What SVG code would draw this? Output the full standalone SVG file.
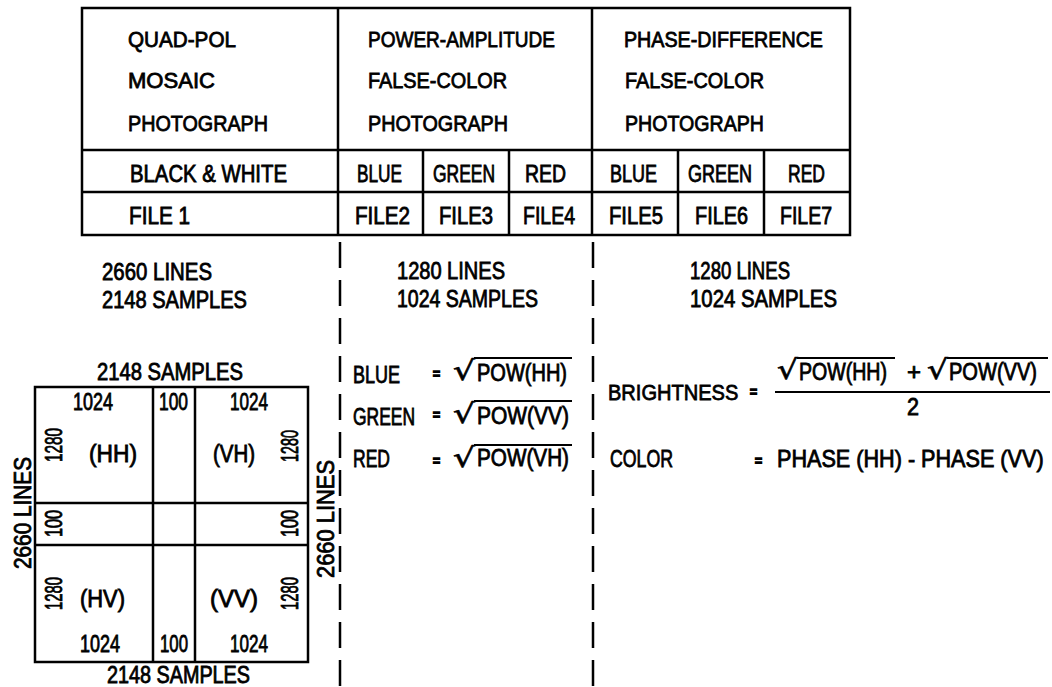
<svg xmlns="http://www.w3.org/2000/svg" width="1052" height="687" viewBox="0 0 1052 687">
<style>
.t{font-family:"Liberation Sans",Arial,sans-serif;font-size:23px;fill:#000;stroke:#000;stroke-width:0.8px}
.h{font-size:22px}
.eq{font-family:"Liberation Sans",Arial,sans-serif;font-size:12px;font-weight:bold;fill:#000;stroke:#000;stroke-width:1.4px}
.rad{font-family:"DejaVu Sans",sans-serif;font-size:27px;fill:#000;stroke:#000;stroke-width:0.6px}
.ln{stroke:#000;stroke-width:2.5;fill:none}
.dash{stroke:#000;stroke-width:2.5;fill:none;stroke-dasharray:26 12}
.vin{stroke:#000;stroke-width:2;fill:none}
</style>
<rect width="1052" height="687" fill="#fff"/>

<g id="table">
  <rect class="ln" x="82" y="8" width="768" height="227"/>
  <line class="ln" x1="82" y1="150" x2="850" y2="150"/>
  <line class="ln" x1="82" y1="192" x2="850" y2="192"/>
  <line class="ln" x1="338" y1="8" x2="338" y2="235"/>
  <line class="ln" x1="592" y1="8" x2="592" y2="235"/>
  <line class="ln" x1="423" y1="150" x2="423" y2="235"/>
  <line class="ln" x1="509" y1="150" x2="509" y2="235"/>
  <line class="ln" x1="678" y1="150" x2="678" y2="235"/>
  <line class="ln" x1="764" y1="150" x2="764" y2="235"/>
</g>

<g id="col-quadpol">
  <text class="t h" x="128" y="47" textLength="108" lengthAdjust="spacingAndGlyphs">QUAD-POL</text>
  <text class="t h" x="128" y="88" textLength="87" lengthAdjust="spacingAndGlyphs">MOSAIC</text>
  <text class="t h" x="128" y="131" textLength="140" lengthAdjust="spacingAndGlyphs">PHOTOGRAPH</text>
  <text class="t" x="130" y="182" textLength="157" lengthAdjust="spacingAndGlyphs">BLACK &amp; WHITE</text>
  <text class="t" x="129" y="224" textLength="61" lengthAdjust="spacingAndGlyphs">FILE 1</text>
</g>

<g id="col-power">
  <text class="t h" x="368" y="47" textLength="187" lengthAdjust="spacingAndGlyphs">POWER-AMPLITUDE</text>
  <text class="t h" x="368" y="88" textLength="139" lengthAdjust="spacingAndGlyphs">FALSE-COLOR</text>
  <text class="t h" x="368" y="131" textLength="140" lengthAdjust="spacingAndGlyphs">PHOTOGRAPH</text>
  <text class="t" x="357" y="182" textLength="45" lengthAdjust="spacingAndGlyphs">BLUE</text>
  <text class="t" x="433" y="182" textLength="62" lengthAdjust="spacingAndGlyphs">GREEN</text>
  <text class="t" x="525" y="182" textLength="41" lengthAdjust="spacingAndGlyphs">RED</text>
  <text class="t" x="355" y="224" textLength="55" lengthAdjust="spacingAndGlyphs">FILE2</text>
  <text class="t" x="439" y="224" textLength="54" lengthAdjust="spacingAndGlyphs">FILE3</text>
  <text class="t" x="523" y="224" textLength="52" lengthAdjust="spacingAndGlyphs">FILE4</text>
</g>

<g id="col-phase">
  <text class="t h" x="624" y="47" textLength="199" lengthAdjust="spacingAndGlyphs">PHASE-DIFFERENCE</text>
  <text class="t h" x="625" y="88" textLength="139" lengthAdjust="spacingAndGlyphs">FALSE-COLOR</text>
  <text class="t h" x="625" y="131" textLength="139" lengthAdjust="spacingAndGlyphs">PHOTOGRAPH</text>
  <text class="t" x="610" y="182" textLength="47" lengthAdjust="spacingAndGlyphs">BLUE</text>
  <text class="t" x="688" y="182" textLength="64" lengthAdjust="spacingAndGlyphs">GREEN</text>
  <text class="t" x="788" y="182" textLength="37" lengthAdjust="spacingAndGlyphs">RED</text>
  <text class="t" x="609" y="224" textLength="54" lengthAdjust="spacingAndGlyphs">FILE5</text>
  <text class="t" x="695" y="224" textLength="53" lengthAdjust="spacingAndGlyphs">FILE6</text>
  <text class="t" x="780" y="224" textLength="52" lengthAdjust="spacingAndGlyphs">FILE7</text>
</g>

<g id="connectors">
  <line class="dash" x1="340" y1="242" x2="340" y2="687"/>
  <line class="dash" x1="593" y1="242" x2="593" y2="687"/>
</g>

<g id="size-left">
  <text class="t" x="102" y="280" textLength="110" lengthAdjust="spacingAndGlyphs">2660 LINES</text>
  <text class="t" x="102" y="308" textLength="145" lengthAdjust="spacingAndGlyphs">2148 SAMPLES</text>
</g>
<g id="size-mid">
  <text class="t" x="397" y="279" textLength="108" lengthAdjust="spacingAndGlyphs">1280 LINES</text>
  <text class="t" x="397" y="307" textLength="141" lengthAdjust="spacingAndGlyphs">1024 SAMPLES</text>
</g>
<g id="size-right">
  <text class="t" x="690" y="279" textLength="100" lengthAdjust="spacingAndGlyphs">1280 LINES</text>
  <text class="t" x="690" y="307" textLength="147" lengthAdjust="spacingAndGlyphs">1024 SAMPLES</text>
</g>

<g id="mosaic">
  <rect class="ln" x="35" y="387" width="273" height="275"/>
  <line class="ln" x1="153" y1="387" x2="153" y2="662"/>
  <line class="ln" x1="195" y1="387" x2="195" y2="662"/>
  <line class="ln" x1="35" y1="503" x2="308" y2="503"/>
  <line class="ln" x1="35" y1="545" x2="308" y2="545"/>
  <text class="t" x="97" y="380" textLength="146" lengthAdjust="spacingAndGlyphs">2148 SAMPLES</text>
  <text class="t" x="107" y="683" textLength="143" lengthAdjust="spacingAndGlyphs">2148 SAMPLES</text>
  <text class="t" x="73" y="410" textLength="40" lengthAdjust="spacingAndGlyphs">1024</text>
  <text class="t" x="159" y="410" textLength="29" lengthAdjust="spacingAndGlyphs">100</text>
  <text class="t" x="230" y="410" textLength="38" lengthAdjust="spacingAndGlyphs">1024</text>
  <text class="t" x="89" y="462" textLength="48" lengthAdjust="spacingAndGlyphs">(HH)</text>
  <text class="t" x="213" y="462" textLength="42" lengthAdjust="spacingAndGlyphs">(VH)</text>
  <text class="t" x="80" y="607" textLength="45" lengthAdjust="spacingAndGlyphs">(HV)</text>
  <text class="t" x="210" y="607" textLength="48" lengthAdjust="spacingAndGlyphs">(VV)</text>
  <text class="t" x="80" y="652" textLength="40" lengthAdjust="spacingAndGlyphs">1024</text>
  <text class="t" x="160" y="652" textLength="28" lengthAdjust="spacingAndGlyphs">100</text>
  <text class="t" x="230" y="652" textLength="38" lengthAdjust="spacingAndGlyphs">1024</text>
  <text class="t" transform="translate(62,462) rotate(-90)" textLength="34" lengthAdjust="spacingAndGlyphs">1280</text>
  <text class="t" transform="translate(298,462) rotate(-90)" textLength="32" lengthAdjust="spacingAndGlyphs">1280</text>
  <text class="t" transform="translate(62,537) rotate(-90)" textLength="27" lengthAdjust="spacingAndGlyphs">100</text>
  <text class="t" transform="translate(298,537) rotate(-90)" textLength="27" lengthAdjust="spacingAndGlyphs">100</text>
  <text class="t" transform="translate(62,610) rotate(-90)" textLength="33" lengthAdjust="spacingAndGlyphs">1280</text>
  <text class="t" transform="translate(298,610) rotate(-90)" textLength="33" lengthAdjust="spacingAndGlyphs">1280</text>
  <text class="t" transform="translate(31,569) rotate(-90)" font-size="24" textLength="112" lengthAdjust="spacingAndGlyphs">2660 LINES</text>
  <text class="t" transform="translate(334,578) rotate(-90)" font-size="24" textLength="118" lengthAdjust="spacingAndGlyphs">2660 LINES</text>
</g>

<g id="power-formulas">
  <text class="t" x="353" y="383" textLength="47" lengthAdjust="spacingAndGlyphs">BLUE</text>
  <text class="eq" x="433" y="378">=</text>
  <text class="rad" x="453" y="380" textLength="22" lengthAdjust="spacingAndGlyphs">√</text>
  <line class="vin" x1="474" y1="358" x2="572" y2="358"/>
  <text class="t" x="477" y="381" textLength="90" lengthAdjust="spacingAndGlyphs">POW(HH)</text>

  <text class="t" x="353" y="425" textLength="62" lengthAdjust="spacingAndGlyphs">GREEN</text>
  <text class="eq" x="433" y="419">=</text>
  <text class="rad" x="453" y="423" textLength="22" lengthAdjust="spacingAndGlyphs">√</text>
  <line class="vin" x1="474" y1="401" x2="572" y2="401"/>
  <text class="t" x="477" y="424" textLength="92" lengthAdjust="spacingAndGlyphs">POW(VV)</text>

  <text class="t" x="353" y="467" textLength="37" lengthAdjust="spacingAndGlyphs">RED</text>
  <text class="eq" x="433" y="465">=</text>
  <text class="rad" x="453" y="467" textLength="22" lengthAdjust="spacingAndGlyphs">√</text>
  <line class="vin" x1="474" y1="445" x2="572" y2="445"/>
  <text class="t" x="477" y="466" textLength="92" lengthAdjust="spacingAndGlyphs">POW(VH)</text>
</g>

<g id="phase-formulas">
  <text class="t" transform="translate(608,400) scale(0.872,1)">BRIGHTNESS</text>
  <text class="eq" x="750" y="396">=</text>
  <line class="vin" x1="775" y1="392" x2="1050" y2="392"/>
  <text class="rad" x="777" y="379" textLength="21" lengthAdjust="spacingAndGlyphs">√</text>
  <line class="vin" x1="797" y1="358" x2="895" y2="358"/>
  <text class="t" x="799" y="380" textLength="88" lengthAdjust="spacingAndGlyphs">POW(HH)</text>
  <text class="t" x="907" y="380" textLength="14" lengthAdjust="spacingAndGlyphs">+</text>
  <text class="rad" x="927" y="379" textLength="21" lengthAdjust="spacingAndGlyphs">√</text>
  <line class="vin" x1="947" y1="358" x2="1048" y2="358"/>
  <text class="t" x="949" y="380" textLength="88" lengthAdjust="spacingAndGlyphs">POW(VV)</text>
  <text class="t" x="907" y="415" textLength="12" lengthAdjust="spacingAndGlyphs">2</text>

  <text class="t" x="610" y="467" textLength="63" lengthAdjust="spacingAndGlyphs">COLOR</text>
  <text class="eq" x="755" y="465">=</text>
  <text class="t" transform="translate(777,467) scale(0.94,1)">PHASE (HH) - PHASE (VV)</text>
</g>
</svg>
